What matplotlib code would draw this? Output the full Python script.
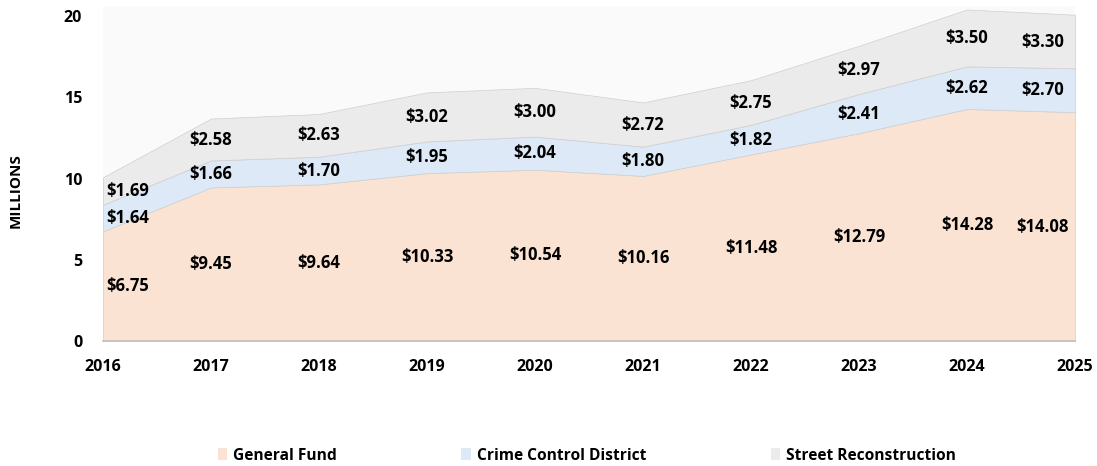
import numpy as np
import matplotlib.pyplot as plt
from matplotlib.patches import Patch

plt.rcParams['font.family'] = ['Open Sans', 'DejaVu Sans']
plt.rcParams['font.weight'] = 'bold'

# data (millions)
years = [2016, 2017, 2018, 2019, 2020, 2021, 2022, 2023, 2024, 2025]
general_fund = [6.75, 9.45, 9.64, 10.33, 10.54, 10.16, 11.48, 12.79, 14.28, 14.08]
crime_control = [1.64, 1.66, 1.70, 1.95, 2.04, 1.80, 1.82, 2.41, 2.62, 2.70]
street_recon = [1.69, 2.58, 2.63, 3.02, 3.00, 2.72, 2.75, 2.97, 3.50, 3.30]
series_names = ['General Fund', 'Crime Control District', 'Street Reconstruction']
colors = ['#FBE3D4', '#DDE9F6', '#EBEBEB']

fig = plt.figure(figsize=(10.97, 4.66), dpi=100)
ax = fig.add_axes([0.0939, 0.2682, 0.8861, 0.7184])
ax.set_facecolor('#FAFAFA')

series = [general_fund, crime_control, street_recon]
ax.stackplot(years, series, colors=colors, edgecolor='#CFCFCF', linewidth=0.5)

# data labels in the middle of each band
base = np.zeros(len(years))
for vals in series:
    vals = np.array(vals)
    for i, (x, v) in enumerate(zip(years, vals)):
        dx = 0
        if i == 0:
            dx = 0.23
        elif i == len(years) - 1:
            dx = -0.3
        ax.text(x + dx, base[i] + v / 2, '${:.2f}'.format(v), ha='center', va='center',
                fontsize=12, fontweight='bold', color='black')
    base = base + vals

ax.set_xlim(2016, 2025)
ax.set_ylim(0, 20.6)
ax.set_xticks(years)
ax.set_yticks([0, 5, 10, 15, 20])
ax.tick_params(axis='both', length=0, labelsize=11.5)
ax.tick_params(axis='y', pad=15)
ax.tick_params(axis='x', pad=13)
for lab in ax.get_xticklabels() + ax.get_yticklabels():
    lab.set_fontweight('bold')

for s in ['top', 'right', 'left']:
    ax.spines[s].set_visible(False)
ax.spines['bottom'].set_color('#BFBFBF')
ax.spines['bottom'].set_linewidth(1.2)

fig.text(0.0146, 0.59, 'MILLIONS', rotation=90, ha='center', va='center',
         fontsize=11, fontweight='bold')

handles = [Patch(facecolor=c, edgecolor='none') for c in colors]
fig.legend(handles, series_names, loc='center', bbox_to_anchor=(0.535, 0.022), ncol=3,
           frameon=False, handlelength=0.6, handleheight=0.8, handletextpad=0.4,
           columnspacing=8.0, prop={'weight': 'bold', 'size': 11.2})

fig.savefig('out.png', dpi=100)
